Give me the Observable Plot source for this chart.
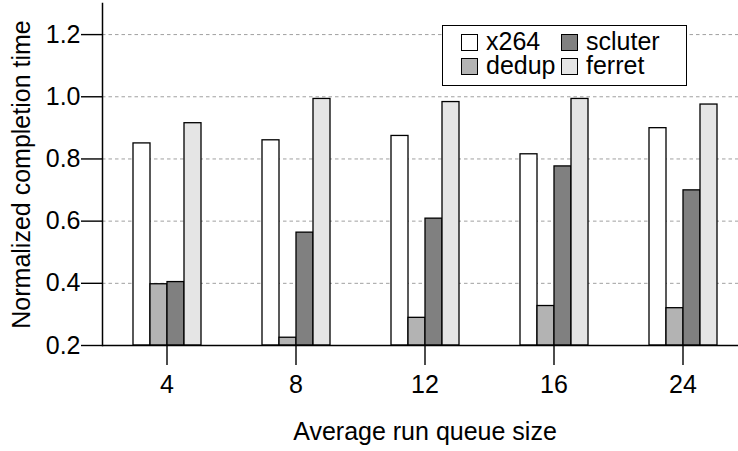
<!DOCTYPE html>
<html>
<head>
<meta charset="utf-8">
<script src="https://cdn.jsdelivr.net/npm/d3@7"></script>
<script src="https://cdn.jsdelivr.net/npm/@observablehq/plot@0.6"></script>
<style>
  body { margin: 0; background: #fff; }
  #chart { position: relative; width: 738px; height: 451px; font-family: "Liberation Sans", Arial, Helvetica, sans-serif; }
  #chart svg { display: block; }
  .legend { position: absolute; left: 442px; top: 25px; width: 243px; height: 59px; border: 1.3px solid #000; background: #fff; font-size: 25px; color: #000; }
  .legend .item { position: absolute; height: 20px; line-height: 20px; white-space: nowrap; }
  .legend .sw { position: absolute; width: 15px; height: 15px; border: 1.2px solid #000; }
  .legend .lab { position: absolute; }
</style>
</head>
<body>
<div id="chart"></div>
<script>
// Average run queue sizes (x groups) and the four workloads in each group
const queueSizes = ["4", "8", "12", "16", "24"];
const workloads = ["x264", "dedup", "scluter", "ferret"];

// Normalized completion time per workload, one value per queue size
const x264 = [0.850, 0.860, 0.874, 0.815, 0.899];
const dedup = [0.397, 0.225, 0.289, 0.327, 0.320];
const scluter = [0.404, 0.563, 0.608, 0.776, 0.699];
const ferret = [0.915, 0.993, 0.983, 0.993, 0.975];

// Y axis ticks
const yTicks = [0.2, 0.4, 0.6, 0.8, 1.0, 1.2];

const fills = ["#ffffff", "#b3b3b3", "#808080", "#e5e5e5"];
const series = [x264, dedup, scluter, ferret];

const rows = [];
queueSizes.forEach((size, i) => {
  workloads.forEach((w, j) => rows.push({size, workload: w, value: series[j][i]}));
});

const font = '"Liberation Sans", Arial, Helvetica, sans-serif';

const chart = Plot.plot({
  width: 738,
  height: 451,
  marginLeft: 101,
  marginRight: -9,
  marginTop: 3,
  marginBottom: 106,
  style: {fontFamily: font, fontSize: "25px", background: "transparent", color: "#000"},
  fx: {domain: queueSizes, padding: 0},
  x: {domain: workloads, paddingInner: 0, paddingOuter: 1.59, axis: null},
  y: {domain: [0.2, 1.3]},
  color: {domain: workloads, range: fills},
  marks: [
    Plot.gridY(yTicks.filter(d => d > 0.2), {stroke: "#a0a0a0", strokeOpacity: 1, strokeWidth: 1, strokeDasharray: "3.5,3"}),
    Plot.barY(rows, {fx: "size", x: "workload", y1: 0.2, y2: "value", fill: "workload", stroke: "#000", strokeWidth: 1.3}),
    Plot.ruleY([0.2], {stroke: "#000", strokeWidth: 1.6}),
    Plot.axisY(yTicks, {
      tickSize: 21, tickPadding: 1, strokeWidth: 1.4,
      tickFormat: d => d.toFixed(1),
      label: "Normalized completion time", labelAnchor: "center", labelArrow: false, labelOffset: 90
    }),
    Plot.axisFx({
      anchor: "bottom",
      tickSize: 20, tickPadding: 10, strokeWidth: 1.4,
      label: "Average run queue size", labelAnchor: "center", labelArrow: false, labelOffset: 94
    }),
    Plot.frame({anchor: "left", facetAnchor: "left", stroke: "#000", strokeWidth: 1.5})
  ]
});

const root = document.getElementById("chart");
root.appendChild(chart);

// Legend box, two columns of swatches
const legend = document.createElement("div");
legend.className = "legend";
const cols = [18, 118];
const rowsY = [5, 29];
const order = [[0, 0], [2, 1], [1, 0], [3, 1]]; // [workload index, column]
order.forEach(([wi, col], k) => {
  const r = k < 2 ? 0 : 1;
  const item = document.createElement("div");
  item.className = "item";
  item.style.left = cols[col] + "px";
  item.style.top = rowsY[r] + "px";
  const sw = document.createElement("span");
  sw.className = "sw";
  sw.style.left = "0px";
  sw.style.top = "3px";
  sw.style.background = fills[wi];
  const lab = document.createElement("span");
  lab.className = "lab";
  lab.style.left = "25px";
  lab.style.top = "0px";
  lab.textContent = workloads[wi];
  item.appendChild(sw);
  item.appendChild(lab);
  legend.appendChild(item);
});
root.appendChild(legend);
</script>
</body>
</html>
